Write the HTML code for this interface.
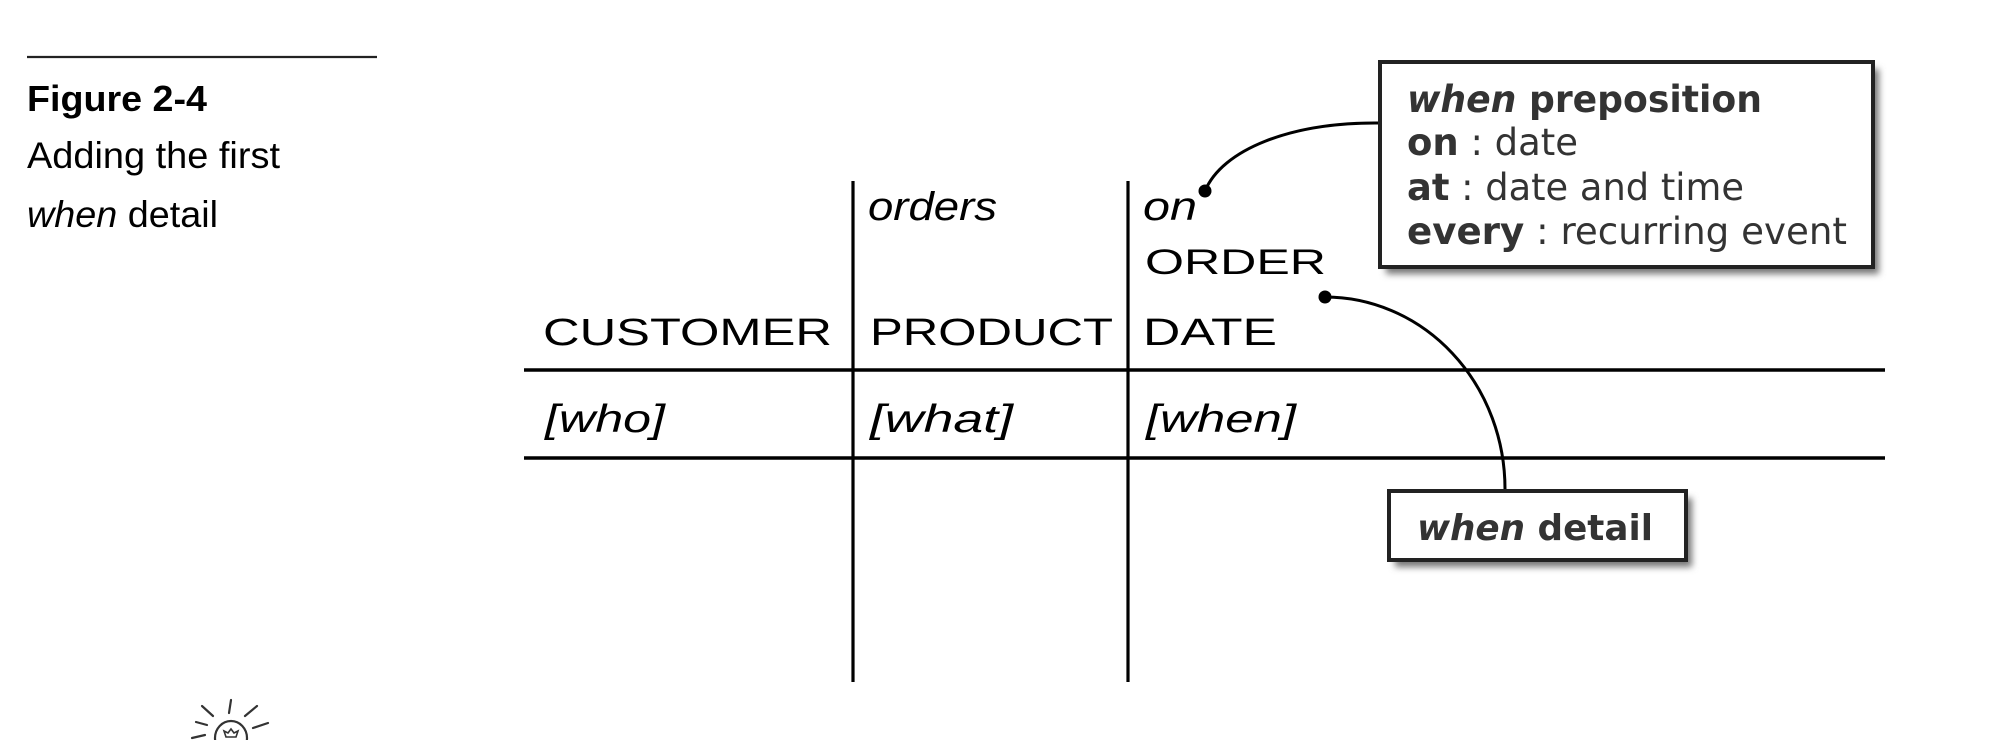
<!DOCTYPE html>
<html>
<head>
<meta charset="utf-8">
<style>
  html, body { margin:0; padding:0; background:#fff; }
  body { width:2000px; height:740px; overflow:hidden; }
  svg { display:block; }
</style>
</head>
<body>
<svg width="2000" height="740" viewBox="0 0 2000 740" xmlns="http://www.w3.org/2000/svg">
  <defs>
    <filter id="sh" x="-10%" y="-10%" width="130%" height="140%">
      <feGaussianBlur stdDeviation="3.5"/>
    </filter>
  </defs>
  <rect x="0" y="0" width="2000" height="740" fill="#fff"/>

  <!-- Caption -->
  <line x1="27" y1="57" x2="377" y2="57" stroke="#222" stroke-width="2.2"/>
  <text x="27" y="111" font-family="'Liberation Sans', Arial, sans-serif" font-weight="bold" font-size="36" fill="#000" textLength="180" lengthAdjust="spacingAndGlyphs">Figure 2-4</text>
  <text x="27" y="168" font-family="'Liberation Sans', Arial, sans-serif" font-size="37" fill="#000" textLength="253" lengthAdjust="spacingAndGlyphs">Adding the first</text>
  <text x="27" y="227" font-family="'Liberation Sans', Arial, sans-serif" font-size="37" fill="#000" textLength="191" lengthAdjust="spacingAndGlyphs"><tspan font-style="italic">when</tspan> detail</text>

  <!-- Grid lines -->
  <line x1="524" y1="370" x2="1885" y2="370" stroke="#000" stroke-width="3.5"/>
  <line x1="524" y1="458" x2="1885" y2="458" stroke="#000" stroke-width="3.5"/>
  <line x1="853" y1="181" x2="853" y2="682" stroke="#000" stroke-width="3.2"/>
  <line x1="1128" y1="181" x2="1128" y2="682" stroke="#000" stroke-width="3.2"/>

  <!-- Hand lettering -->
  <g font-family="'Liberation Sans', Arial, sans-serif" fill="#000">
    <text x="543" y="345" font-size="38" textLength="289" lengthAdjust="spacingAndGlyphs">CUSTOMER</text>
    <text x="870" y="345" font-size="38" textLength="243" lengthAdjust="spacingAndGlyphs">PRODUCT</text>
    <text x="1143" y="345" font-size="38" textLength="134" lengthAdjust="spacingAndGlyphs">DATE</text>
    <text x="1145" y="274" font-size="35" textLength="181" lengthAdjust="spacingAndGlyphs">ORDER</text>
    <text x="868" y="220" font-size="40" font-style="italic" textLength="129" lengthAdjust="spacingAndGlyphs">orders</text>
    <text x="1143" y="220" font-size="40" font-style="italic" textLength="54" lengthAdjust="spacingAndGlyphs">on</text>
    <text x="545" y="432" font-size="39" font-style="italic" textLength="120" lengthAdjust="spacingAndGlyphs">[who]</text>
    <text x="870" y="432" font-size="39" font-style="italic" textLength="143" lengthAdjust="spacingAndGlyphs">[what]</text>
    <text x="1146" y="432" font-size="39" font-style="italic" textLength="150" lengthAdjust="spacingAndGlyphs">[when]</text>
  </g>

  <!-- Connectors -->
  <path d="M1380,123 C1290,122 1222,150 1205,191" fill="none" stroke="#000" stroke-width="3"/>
  <circle cx="1205" cy="191" r="6.5" fill="#000"/>
  <path d="M1325,297 A180,192 0 0 1 1505,489" fill="none" stroke="#000" stroke-width="3"/>
  <circle cx="1325" cy="297" r="6.5" fill="#000"/>

  <!-- Preposition box -->
  <rect x="1386" y="69" width="493" height="205" fill="#777" filter="url(#sh)"/>
  <rect x="1380" y="62" width="493" height="205" fill="#fff" stroke="#222" stroke-width="4"/>
  <g font-family="'DejaVu Sans', Verdana, sans-serif" font-size="37" fill="#333">
    <text x="1407" y="112" textLength="355" lengthAdjust="spacingAndGlyphs"><tspan font-weight="bold" font-style="italic">when</tspan><tspan font-weight="bold"> preposition</tspan></text>
    <text x="1407" y="155" textLength="171" lengthAdjust="spacingAndGlyphs"><tspan font-weight="bold">on</tspan> : date</text>
    <text x="1407" y="200" textLength="337" lengthAdjust="spacingAndGlyphs"><tspan font-weight="bold">at</tspan> : date and time</text>
    <text x="1407" y="244" textLength="440" lengthAdjust="spacingAndGlyphs"><tspan font-weight="bold">every</tspan> : recurring event</text>
  </g>

  <!-- when detail box -->
  <rect x="1395" y="498" width="297" height="69" fill="#777" filter="url(#sh)"/>
  <rect x="1389" y="491" width="297" height="69" fill="#fff" stroke="#222" stroke-width="4"/>
  <text x="1417" y="540" font-family="'DejaVu Sans', Verdana, sans-serif" font-size="36" font-weight="bold" fill="#333" textLength="236" lengthAdjust="spacingAndGlyphs"><tspan font-style="italic">when</tspan> detail</text>

  <!-- Light bulb icon -->
  <g fill="none" stroke="#333" stroke-width="2.2" stroke-linecap="round">
    <line x1="231" y1="700" x2="229" y2="713"/>
    <line x1="202" y1="706" x2="213" y2="716"/>
    <line x1="257" y1="706" x2="245" y2="716"/>
    <line x1="196" y1="722" x2="207" y2="725"/>
    <line x1="253" y1="728" x2="268" y2="723"/>
    <line x1="192" y1="738" x2="205" y2="735"/>
    <ellipse cx="231" cy="738" rx="16" ry="17"/>
    <path d="M226,737 L224,731 L228,733 L231,729 L234,733 L238,731 L236,737 Z" stroke-width="1.6"/>
  </g>
</svg>
</body>
</html>
